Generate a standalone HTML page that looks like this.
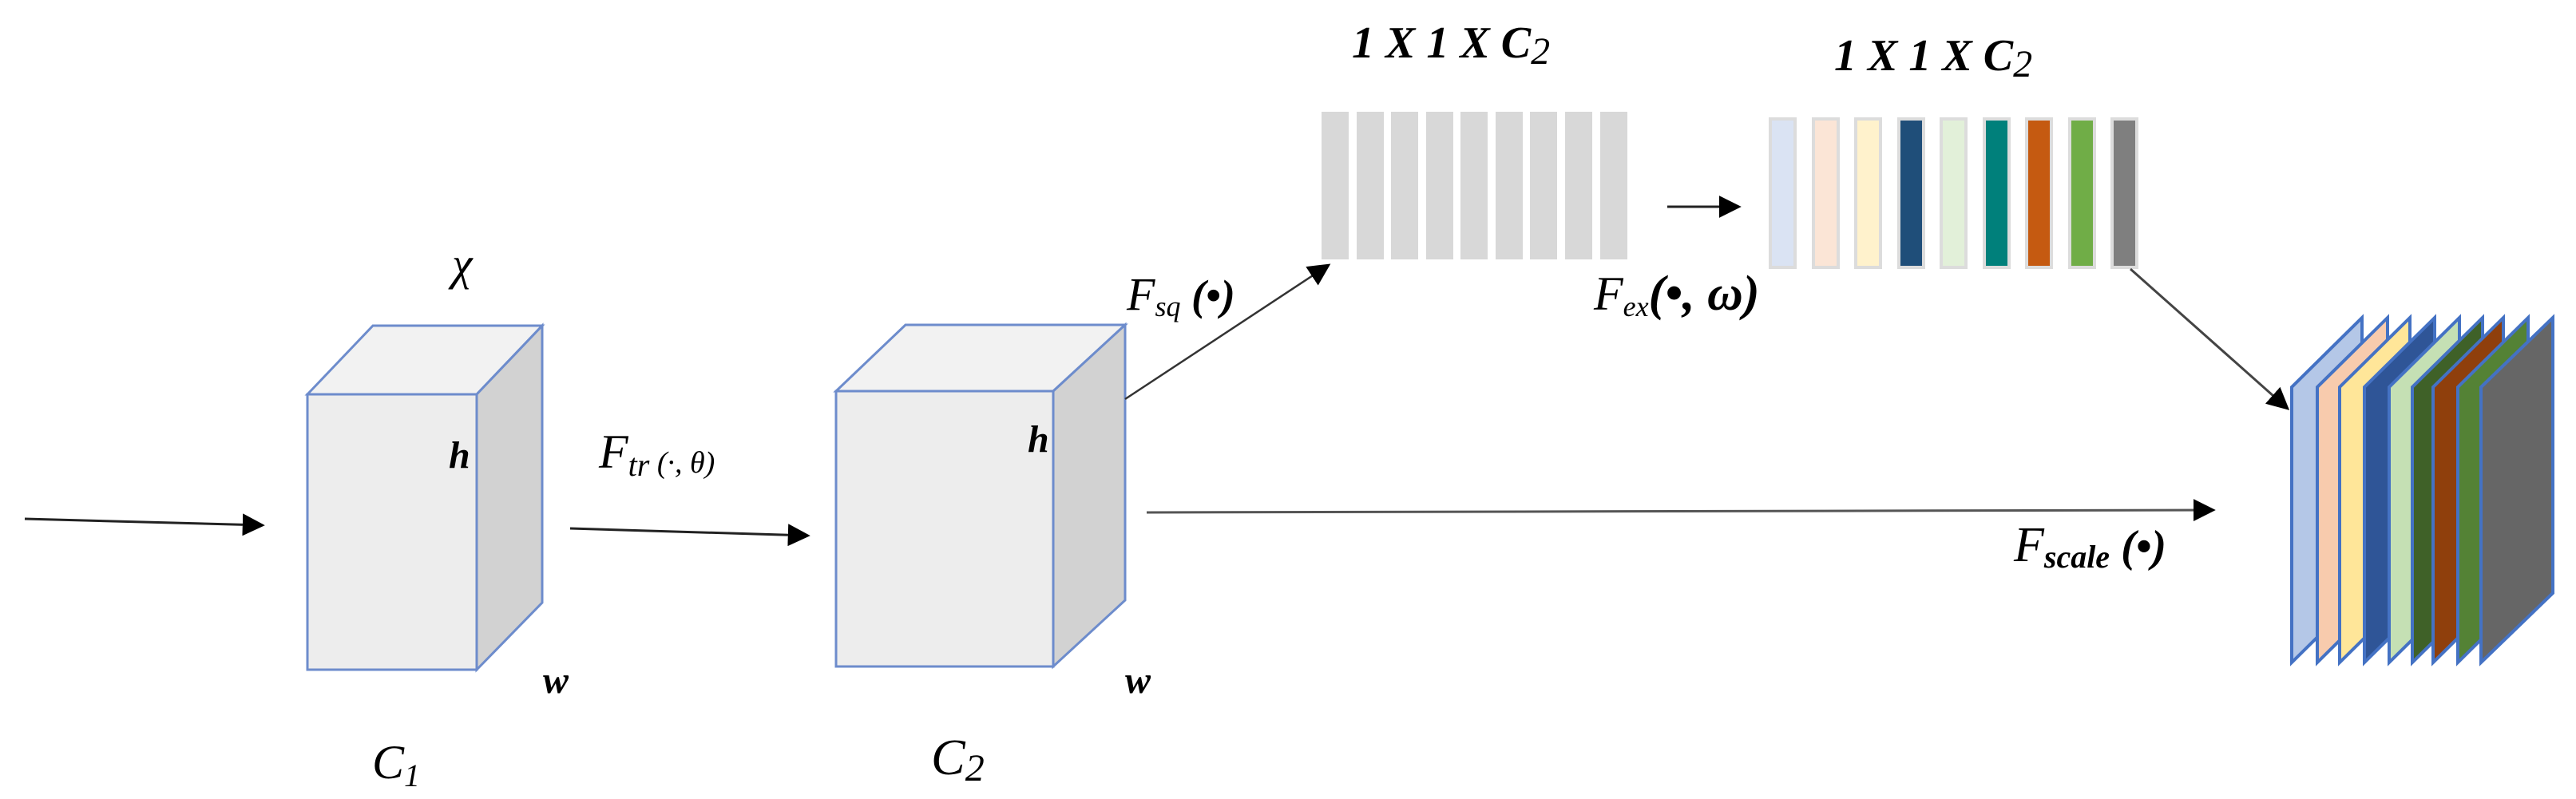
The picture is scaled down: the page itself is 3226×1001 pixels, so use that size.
<!DOCTYPE html>
<html><head><meta charset="utf-8"><style>
html,body{margin:0;padding:0;background:#fff;}
svg{display:block;}
text{font-family:"Liberation Serif",serif;font-style:italic;fill:#000;}
</style></head><body>
<svg width="3226" height="1001" viewBox="0 0 3226 1001" xmlns="http://www.w3.org/2000/svg">
<defs>
<marker id="a" viewBox="0 0 10 10" refX="9" refY="5" markerWidth="28" markerHeight="28" markerUnits="userSpaceOnUse" orient="auto"><path d="M0,0 L10,5 L0,10 z" fill="#000"/></marker>
</defs>

<line x1="31" y1="650" x2="329" y2="658" stroke="#222" stroke-width="3" marker-end="url(#a)"/>

<polygon points="385,494 467,408 679,408 597,494" fill="#f2f2f2" stroke="#6d8ccc" stroke-width="3"/>
<polygon points="597,494 679,408 679,755 597,839" fill="#d2d2d2" stroke="#6d8ccc" stroke-width="3"/>
<rect x="385" y="494" width="212" height="345" fill="#ededed" stroke="#6d8ccc" stroke-width="3"/>
<text x="566" y="350" font-size="58">χ</text>
<text x="562" y="586" font-size="48" font-weight="bold">h</text>
<text x="680" y="868" font-size="48" font-weight="bold">w</text>
<text x="466" y="975" font-size="60">C<tspan font-size="40" dy="10">1</tspan></text>

<text x="750" y="586" font-size="60">F<tspan font-size="40" dy="10">tr</tspan><tspan font-size="38" dy="-4"> (·, θ)</tspan></text>
<line x1="714" y1="662" x2="1012" y2="671" stroke="#222" stroke-width="3" marker-end="url(#a)"/>

<polygon points="1047,490 1134,407 1409,407 1319,490" fill="#f2f2f2" stroke="#6d8ccc" stroke-width="3"/>
<polygon points="1319,490 1409,407 1409,752 1319,835" fill="#d2d2d2" stroke="#6d8ccc" stroke-width="3"/>
<rect x="1047" y="490" width="272" height="345" fill="#ededed" stroke="#6d8ccc" stroke-width="3"/>
<text x="1287" y="566" font-size="48" font-weight="bold">h</text>
<text x="1409" y="868" font-size="48" font-weight="bold">w</text>
<text x="1166" y="970" font-size="64">C<tspan font-size="48" dy="8">2</tspan></text>

<line x1="1409" y1="500" x2="1664" y2="332" stroke="#333" stroke-width="2.5" marker-end="url(#a)"/>
<text x="1411" y="388" font-size="58">F<tspan font-size="36" dy="8">sq</tspan><tspan font-size="54" dy="-8" font-weight="bold"> (•)</tspan></text>

<line x1="1436" y1="642" x2="2772" y2="639" stroke="#555" stroke-width="3" marker-end="url(#a)"/>
<text x="2522" y="703" font-size="62">F<tspan font-size="40" dy="8" font-weight="bold">scale</tspan><tspan font-size="56" dy="-8" font-weight="bold"> (•)</tspan></text>

<g fill="#d8d8d8">
<rect x="1655" y="140" width="34" height="185"/>
<rect x="1699" y="140" width="34" height="185"/>
<rect x="1742" y="140" width="34" height="185"/>
<rect x="1786" y="140" width="34" height="185"/>
<rect x="1829" y="140" width="34" height="185"/>
<rect x="1873" y="140" width="34" height="185"/>
<rect x="1916" y="140" width="34" height="185"/>
<rect x="1960" y="140" width="34" height="185"/>
<rect x="2004" y="140" width="34" height="185"/>
</g>
<text x="1693" y="72" font-size="56" font-weight="bold">1 X 1 X C<tspan font-size="48" dy="8" font-weight="normal">2</tspan></text>

<line x1="2088" y1="259" x2="2178" y2="259" stroke="#222" stroke-width="3" marker-end="url(#a)"/>

<g stroke="#dcdcdc" stroke-width="4">
<rect x="2217" y="149" width="31" height="186" fill="#dae3f3"/>
<rect x="2271" y="149" width="31" height="186" fill="#fbe5d6"/>
<rect x="2324" y="149" width="31" height="186" fill="#fff2cc"/>
<rect x="2378" y="149" width="31" height="186" fill="#1f4e79"/>
<rect x="2431" y="149" width="31" height="186" fill="#e2f0d9"/>
<rect x="2485" y="149" width="31" height="186" fill="#00807b"/>
<rect x="2538" y="149" width="31" height="186" fill="#c55a11"/>
<rect x="2592" y="149" width="31" height="186" fill="#70ad47"/>
<rect x="2645" y="149" width="31" height="186" fill="#7f7f7f"/>
</g>
<text x="2297" y="88" font-size="56" font-weight="bold">1 X 1 X C<tspan font-size="48" dy="8" font-weight="normal">2</tspan></text>
<text x="1996" y="388" font-size="60">F<tspan font-size="36" dy="8">ex</tspan><tspan font-size="62" dy="-8" font-weight="bold">(•, ω)</tspan></text>

<line x1="2668" y1="337" x2="2865" y2="512" stroke="#444" stroke-width="3" marker-end="url(#a)"/>

<g stroke="#4472c4" stroke-width="4">
<polygon points="2870,830 2870,485 2958,398 2958,743" fill="#b4c7e7"/>
<polygon points="2902,830 2902,485 2990,398 2990,743" fill="#f8cbad"/>
<polygon points="2930,830 2930,485 3018,398 3018,743" fill="#ffe699"/>
<polygon points="2961,830 2961,485 3049,398 3049,743" fill="#2f5597"/>
<polygon points="2992,830 2992,485 3080,398 3080,743" fill="#c5e0b4"/>
<polygon points="3021,830 3021,485 3109,398 3109,743" fill="#3f6128"/>
<polygon points="3047,830 3047,485 3135,398 3135,743" fill="#8f3f0c"/>
<polygon points="3078,830 3078,485 3166,398 3166,743" fill="#548235"/>
<polygon points="3107,830 3107,485 3197,398 3197,743" fill="#666666"/>
</g>
</svg>
</body></html>
